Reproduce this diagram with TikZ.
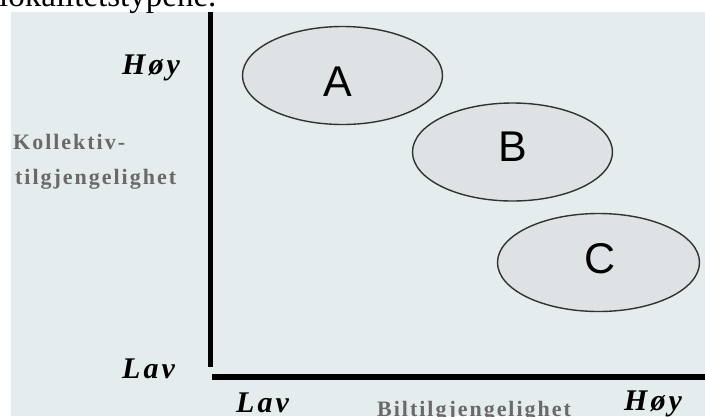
\documentclass[tikz,border=0pt]{standalone}
\usepackage{fontspec}
\setmainfont{Liberation Serif}
\newfontfamily\axfont[LetterSpace=10]{Liberation Serif}
\newfontfamily\grfont[LetterSpace=9]{Liberation Serif}
\newfontfamily\letfont{Liberation Sans}
\usetikzlibrary{shapes.geometric}
\definecolor{panel}{RGB}{228,236,238}
\definecolor{ellfill}{RGB}{221,227,229}
\definecolor{ellline}{RGB}{50,50,50}
\definecolor{graytxt}{RGB}{105,105,105}
\tikzset{
  ell/.style={ellipse, draw=ellline, line width=1.4pt, fill=ellfill, minimum width=200pt, minimum height=98pt, inner sep=0pt},
  letter/.style={anchor=base, inner sep=0pt, font=\letfont\fontsize{43}{43}\selectfont},
  axlabel/.style={anchor=base west, inner sep=0pt, font=\axfont\bfseries\itshape\fontsize{30}{30}\selectfont},
  grlabel/.style={anchor=base west, inner sep=0pt, text=graytxt, font=\grfont\bfseries\fontsize{22}{22}\selectfont},
  axisline/.style={line width=5pt, black}
}
\begin{document}
\begin{tikzpicture}[x=1pt,y=-1pt]
\useasboundingbox (0,0) rectangle (705,416);
\fill[panel] (11,12) rectangle (705,416);
\node[anchor=base west, inner sep=0pt, font=\fontsize{33}{33}\selectfont] (title) at (-1,6) {lokalitetstypene.};
% axes
\coordinate (ytop) at (210.5,12);
\coordinate (ybot) at (210.5,367);
\coordinate (xl) at (212,377);
\coordinate (xr) at (705,377);
\draw[axisline] (ytop) -- (ybot);
\draw[axisline, line width=6pt] (xl) -- (xr);
% ellipses
\node[ell] (ellA) at (342.5,75.5) {};
\node[ell] (ellB) at (512.5,152) {};
\node[ell, minimum width=202pt] (ellC) at (598.5,262.5) {};
\node[letter] (A) at (338,96.5) {A};
\node[letter] (B) at (513,161.5) {B};
\node[letter] (C) at (600,273.5) {C};
% labels
\node[axlabel] (hoyY) at (122,74) {Høy};
\node[axlabel] (lavY) at (122,378) {Lav};
\node[axlabel] (lavX) at (236,412) {Lav};
\node[axlabel] (hoyX) at (624,410) {Høy};
\node[grlabel] (koll) at (13,149) {Kollektiv-};
\node[grlabel] (tilg) at (15,184) {tilgjengelighet};
\node[grlabel] (bil) at (377,416) {Biltilgjengelighet};
\end{tikzpicture}
\end{document}
